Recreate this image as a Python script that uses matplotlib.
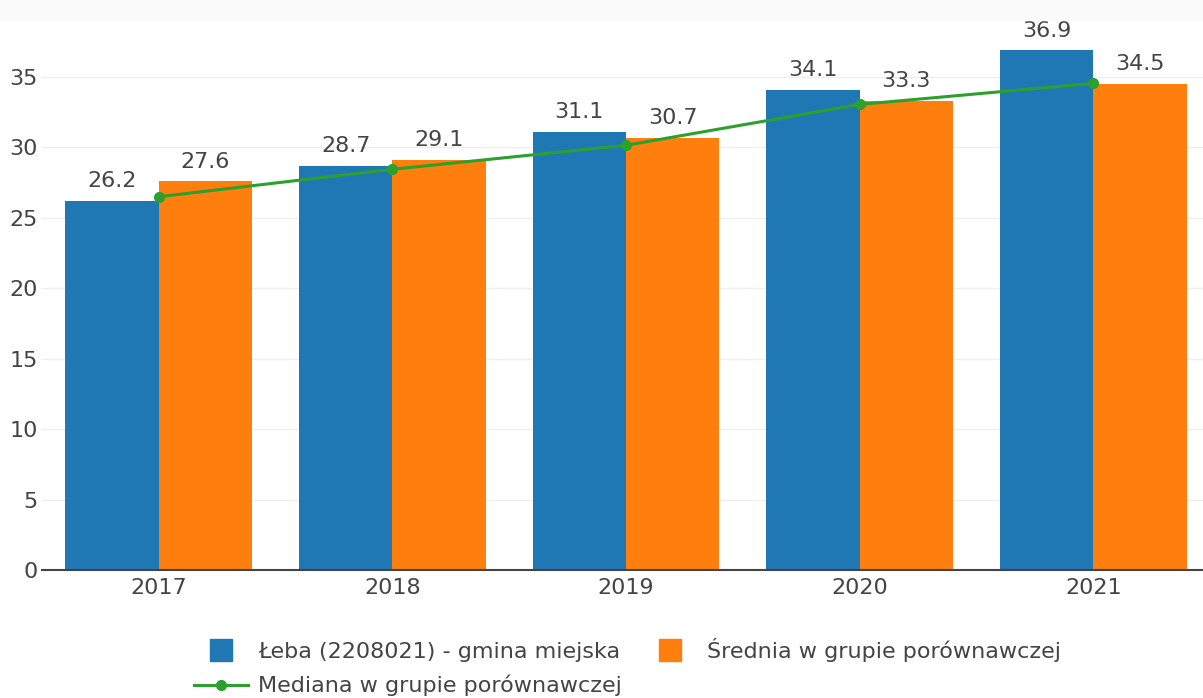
import matplotlib
matplotlib.use("Agg")
import matplotlib.pyplot as plt
from matplotlib.lines import Line2D
from matplotlib.patches import Rectangle
import numpy as np

years = ["2017", "2018", "2019", "2020", "2021"]
leba = [26.2, 28.7, 31.1, 34.1, 36.9]
srednia = [27.6, 29.1, 30.7, 33.3, 34.5]
mediana = [26.5, 28.45, 30.15, 33.05, 34.55]

label_leba = "Łeba (2208021) - gmina miejska"
label_sr = "Średnia w grupie porównawczej"
label_med = "Mediana w grupie porównawczej"

BLUE = "#1f77b4"
ORANGE = "#ff7f0e"
GREEN = "#2ca02c"
TXT = "#444444"
FS = 16

plt.rcParams["font.family"] = ["DejaVu Sans"]

W, H = 1203, 698
fig = plt.figure(figsize=(W / 100, H / 100), dpi=100)

# faint band at the very top
fig.patches.append(Rectangle((0, 1 - 20 / H), 1, 20 / H, transform=fig.transFigure,
                             color="#fafafa", zorder=0))

left, right, bottom, top = 42, 1210, 570, 20
ax = fig.add_axes([left / W, 1 - bottom / H, (right - left) / W, (bottom - top) / H])

x = np.arange(len(years))
w = 0.4
ax.bar(x - w / 2, leba, w, color=BLUE, zorder=2)
ax.bar(x + w / 2, srednia, w, color=ORANGE, zorder=2)
ax.plot(x, mediana, color=GREEN, lw=2.2, marker="o", ms=7, zorder=3)

for xi, v in zip(x - w / 2, leba):
    ax.annotate(f"{v:.1f}", (xi, v), xytext=(0, 7), textcoords="offset points",
                ha="center", va="bottom", fontsize=FS, color=TXT)
for xi, v in zip(x + w / 2, srednia):
    ax.annotate(f"{v:.1f}", (xi, v), xytext=(0, 7), textcoords="offset points",
                ha="center", va="bottom", fontsize=FS, color=TXT)

ax.set_xlim(-0.5, 4.5)
ax.set_ylim(0, (bottom - top) / 14.086)
ax.set_yticks(range(0, 36, 5))
ax.set_xticks(x)
ax.set_xticklabels(years)
ax.tick_params(axis="both", length=0, labelsize=FS, labelcolor=TXT)
ax.tick_params(axis="y", pad=3)
ax.tick_params(axis="x", pad=6)
ax.grid(axis="y", color="#eeeeee", lw=1, zorder=0)
ax.set_axisbelow(True)
for s in ["top", "right", "left"]:
    ax.spines[s].set_visible(False)
ax.spines["bottom"].set_color(TXT)
ax.spines["bottom"].set_linewidth(1.5)
ax.spines["bottom"].set_zorder(4)

handles = [
    Line2D([], [], ls="none", marker="s", ms=16, color=BLUE),
    Line2D([], [], color=GREEN, lw=2.2, marker="o", ms=7),
    Line2D([], [], ls="none", marker="s", ms=16, color=ORANGE),
]
labels = [label_leba, label_med, label_sr]
leg = fig.legend(handles, labels, ncol=2, loc="upper left",
                 bbox_to_anchor=(194 / W, 1 - 638 / H), frameon=False,
                 fontsize=FS, labelcolor=TXT, handlelength=2.43, handletextpad=0.45,
                 columnspacing=0.95, labelspacing=0.58, borderpad=0, borderaxespad=0)

fig.savefig("out.png", dpi=100)
